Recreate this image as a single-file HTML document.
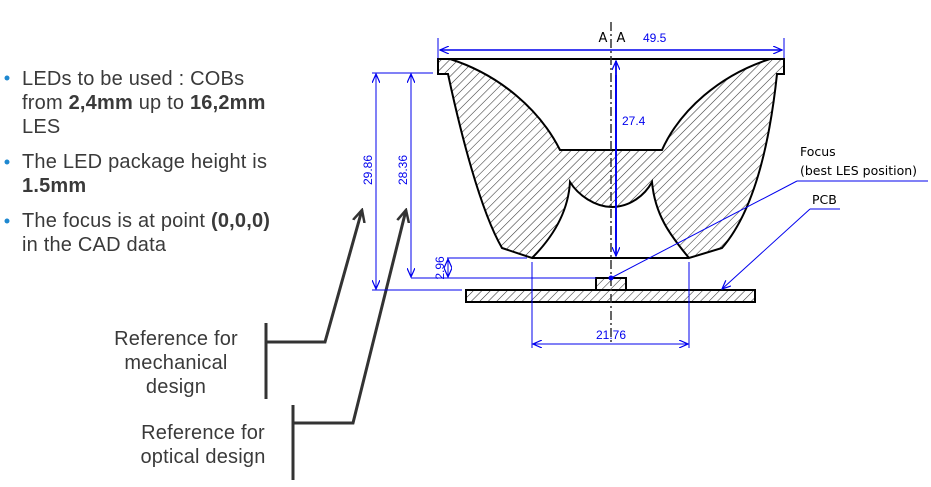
<!DOCTYPE html>
<html><head><meta charset="utf-8"><style>
html,body{margin:0;padding:0;background:#fff;width:931px;height:487px;overflow:hidden}
svg{position:absolute;left:0;top:0}
.t{font-family:"Liberation Sans",sans-serif;fill:#3a3a3a;font-size:20px;letter-spacing:0.2px}
.d{font-family:"Liberation Sans",sans-serif;fill:#0000ee;font-size:12px}
.k{font-family:"DejaVu Sans",sans-serif;fill:#000;font-size:13px}
</style></head><body>
<svg width="931" height="487" viewBox="0 0 931 487" xmlns="http://www.w3.org/2000/svg">
<defs>
<pattern id="h" patternUnits="userSpaceOnUse" width="6" height="6" patternTransform="rotate(45)">
<line x1="0" y1="0" x2="0" y2="6" stroke="#333" stroke-width="1.1"/></pattern>
<marker id="a" markerWidth="10" markerHeight="8" refX="9" refY="4" orient="auto" markerUnits="userSpaceOnUse"><path d="M0,0 L9,4 L0,8" fill="none" stroke="#0000ee" stroke-width="1.2"/></marker>
<marker id="g" markerWidth="14" markerHeight="14" refX="12" refY="7" orient="auto" markerUnits="userSpaceOnUse"><path d="M0,1 L12,7 L0,13" fill="none" stroke="#333" stroke-width="2.5"/></marker>
</defs>
<g class="t">
<circle cx="7" cy="78" r="2.5" fill="#1e88d0"/>
<text x="22" y="85">LEDs to be used : COBs</text>
<text x="22" y="109">from <tspan font-weight="bold">2,4mm</tspan> up to <tspan font-weight="bold">16,2mm</tspan></text>
<text x="22" y="133">LES</text>
<circle cx="7" cy="162" r="2.5" fill="#1e88d0"/>
<text x="22" y="168">The LED package height is</text>
<text x="22" y="192" font-weight="bold">1.5mm</text>
<circle cx="7" cy="221" r="2.5" fill="#1e88d0"/>
<text x="22" y="227">The focus is at point <tspan font-weight="bold">(0,0,0)</tspan></text>
<text x="22" y="251">in the CAD data</text>
<text x="176" y="345" text-anchor="middle">Reference for</text>
<text x="176" y="369" text-anchor="middle">mechanical</text>
<text x="176" y="393" text-anchor="middle">design</text>
<text x="203" y="439" text-anchor="middle">Reference for</text>
<text x="203" y="463" text-anchor="middle">optical design</text>
</g>
<g stroke="#333" stroke-width="3" fill="none">
<line x1="266" y1="323" x2="266" y2="399"/>
<polyline points="266,342 325,342 362,210" marker-end="url(#g)"/>
<line x1="293" y1="405" x2="293" y2="480"/>
<polyline points="293,423 353,423 406,210" marker-end="url(#g)"/>
</g>
<path d="M438,59 L784,59 L784,74 L777,74 C770,140 755,210 722,248 L689,258 C670,235 655,215 652,182 C645,195 630,207 612,207 C595,207 578,195 570,182 C568,215 550,240 532,258 L502,248 C480,210 460,130 448,74 L438,74 Z
M450,59 C500,75 540,110 560,150 L662,150 C680,110 720,75 770,59 Z" fill="url(#h)" fill-rule="evenodd" stroke="#000" stroke-width="2"/>
<line x1="532" y1="258" x2="689" y2="258" stroke="#000" stroke-width="2"/>
<rect x="596" y="278" width="30" height="12" fill="url(#h)" stroke="#000" stroke-width="2"/>
<rect x="466" y="290" width="289" height="12" fill="url(#h)" stroke="#000" stroke-width="2"/>
<line x1="611" y1="22" x2="611" y2="345" stroke="#333" stroke-width="1.5" stroke-dasharray="9,3,2,3"/>
<g stroke="#0000ee" stroke-width="1" fill="none">
<line x1="438" y1="38" x2="438" y2="58"/><line x1="784" y1="38" x2="784" y2="58"/>
<line x1="611" y1="50" x2="440" y2="50" stroke-width="1.5" marker-end="url(#a)"/>
<line x1="611" y1="50" x2="782" y2="50" stroke-width="1.5" marker-end="url(#a)"/>
<line x1="616" y1="75" x2="616" y2="256" stroke-width="1.8" marker-end="url(#a)"/>
<line x1="616" y1="240" x2="616" y2="61" stroke-width="1.8" marker-end="url(#a)"/>
<line x1="372" y1="73" x2="433" y2="73"/>
<line x1="372" y1="290" x2="462" y2="290"/>
<line x1="411" y1="278" x2="596" y2="278"/>
<line x1="447" y1="258" x2="527" y2="258"/>
<line x1="376" y1="180" x2="376" y2="289" marker-end="url(#a)"/>
<line x1="376" y1="180" x2="376" y2="74" marker-end="url(#a)"/>
<line x1="411" y1="180" x2="411" y2="277" marker-end="url(#a)"/>
<line x1="411" y1="180" x2="411" y2="74" marker-end="url(#a)"/>
<line x1="448" y1="268" x2="448" y2="277" marker-end="url(#a)"/>
<line x1="448" y1="268" x2="448" y2="259" marker-end="url(#a)"/>
<line x1="532" y1="262" x2="532" y2="348"/><line x1="689" y1="262" x2="689" y2="348"/>
<line x1="611" y1="344" x2="533" y2="344" marker-end="url(#a)"/>
<line x1="611" y1="344" x2="688" y2="344" marker-end="url(#a)"/>
<line x1="611" y1="278" x2="797" y2="181"/>
<line x1="797" y1="181" x2="928" y2="181"/>
<line x1="810" y1="209" x2="840" y2="209"/>
<line x1="810" y1="209" x2="722" y2="289" marker-end="url(#a)"/>
</g>
<circle cx="611" cy="278" r="2.5" fill="#0000ee"/>
<g class="d">
<text x="643" y="42">49.5</text>
<text x="622" y="125">27.4</text>
<text x="611" y="339" text-anchor="middle">21.76</text>
<text transform="translate(372,170) rotate(-90)" text-anchor="middle">29.86</text>
<text transform="translate(407,170) rotate(-90)" text-anchor="middle">28.36</text>
<text transform="translate(444,268) rotate(-90)" text-anchor="middle">2.96</text>
</g>
<g class="k">
<text x="603" y="42" text-anchor="middle">A</text>
<text x="621" y="42" text-anchor="middle">A</text>
<text x="800" y="156" font-size="12.5">Focus</text>
<text x="800" y="175" font-size="12.5">(best LES position)</text>
<text x="812" y="204" font-size="12.5">PCB</text>
</g>
</svg>
</body></html>
